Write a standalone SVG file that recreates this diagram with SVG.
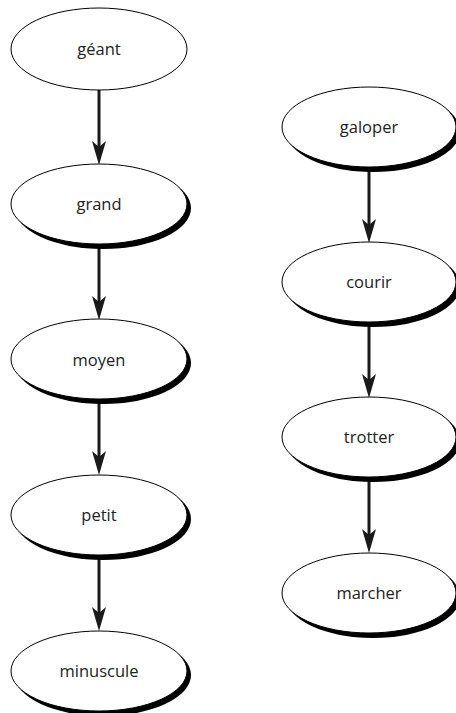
<svg xmlns="http://www.w3.org/2000/svg" width="456" height="713" viewBox="0 0 456 713">
<style>
.sh{fill:#000;stroke:none}
.el{fill:#fff;stroke:#000;stroke-width:1}
.t{font-family:"Open Sans","Noto Sans",sans-serif;font-size:16.5px;text-anchor:middle;fill:#222}
.ln{stroke:#1a1a1a;stroke-width:3;fill:none}
.hd{fill:#1a1a1a}
</style>
<rect width="456" height="713" fill="#fff"/>
<g id="connectors">
<line class="ln" x1="99" y1="90" x2="99" y2="150"/><path class="hd" d="M99,165 L92,141 L99,147 L106,141 Z"/>
<line class="ln" x1="99" y1="246" x2="99" y2="305"/><path class="hd" d="M99,320 L92,296 L99,302 L106,296 Z"/>
<line class="ln" x1="99" y1="401" x2="99" y2="460"/><path class="hd" d="M99,475 L92,451 L99,457 L106,451 Z"/>
<line class="ln" x1="99" y1="557" x2="99" y2="616"/><path class="hd" d="M99,631 L92,607 L99,613 L106,607 Z"/>
<line class="ln" x1="369" y1="169" x2="369" y2="228"/><path class="hd" d="M369,243 L362,219 L369,225 L376,219 Z"/>
<line class="ln" x1="369" y1="324" x2="369" y2="383"/><path class="hd" d="M369,398 L362,374 L369,380 L376,374 Z"/>
<line class="ln" x1="369" y1="479" x2="369" y2="538"/><path class="hd" d="M369,553 L362,529 L369,535 L376,529 Z"/>
</g>
<g id="geant"><ellipse class="el" cx="99" cy="49" rx="88" ry="41"/><text class="t" x="99" y="55">géant</text></g>
<g id="grand"><ellipse class="sh" cx="103" cy="208" rx="88" ry="41"/><ellipse class="el" cx="99" cy="204" rx="88" ry="40"/><text class="t" x="99" y="210">grand</text></g>
<g id="moyen"><ellipse class="sh" cx="103" cy="363" rx="88" ry="41"/><ellipse class="el" cx="99" cy="359" rx="88" ry="40"/><text class="t" x="99" y="366">moyen</text></g>
<g id="petit"><ellipse class="sh" cx="103" cy="519" rx="88" ry="41"/><ellipse class="el" cx="99" cy="515" rx="88" ry="40"/><text class="t" x="99" y="521">petit</text></g>
<g id="minuscule"><ellipse class="sh" cx="103" cy="675" rx="88" ry="41"/><ellipse class="el" cx="99" cy="671" rx="88" ry="40"/><text class="t" x="99" y="677">minuscule</text></g>
<g id="galoper"><ellipse class="sh" cx="373" cy="131" rx="87" ry="41"/><ellipse class="el" cx="369" cy="127" rx="87" ry="40"/><text class="t" x="369" y="133">galoper</text></g>
<g id="courir"><ellipse class="sh" cx="373" cy="286" rx="87" ry="41"/><ellipse class="el" cx="369" cy="282" rx="87" ry="40"/><text class="t" x="369" y="288">courir</text></g>
<g id="trotter"><ellipse class="sh" cx="373" cy="441" rx="87" ry="41"/><ellipse class="el" cx="369" cy="437" rx="87" ry="40"/><text class="t" x="369" y="443">trotter</text></g>
<g id="marcher"><ellipse class="sh" cx="373" cy="597" rx="87" ry="41"/><ellipse class="el" cx="369" cy="593" rx="87" ry="40"/><text class="t" x="369" y="599">marcher</text></g>
</svg>
